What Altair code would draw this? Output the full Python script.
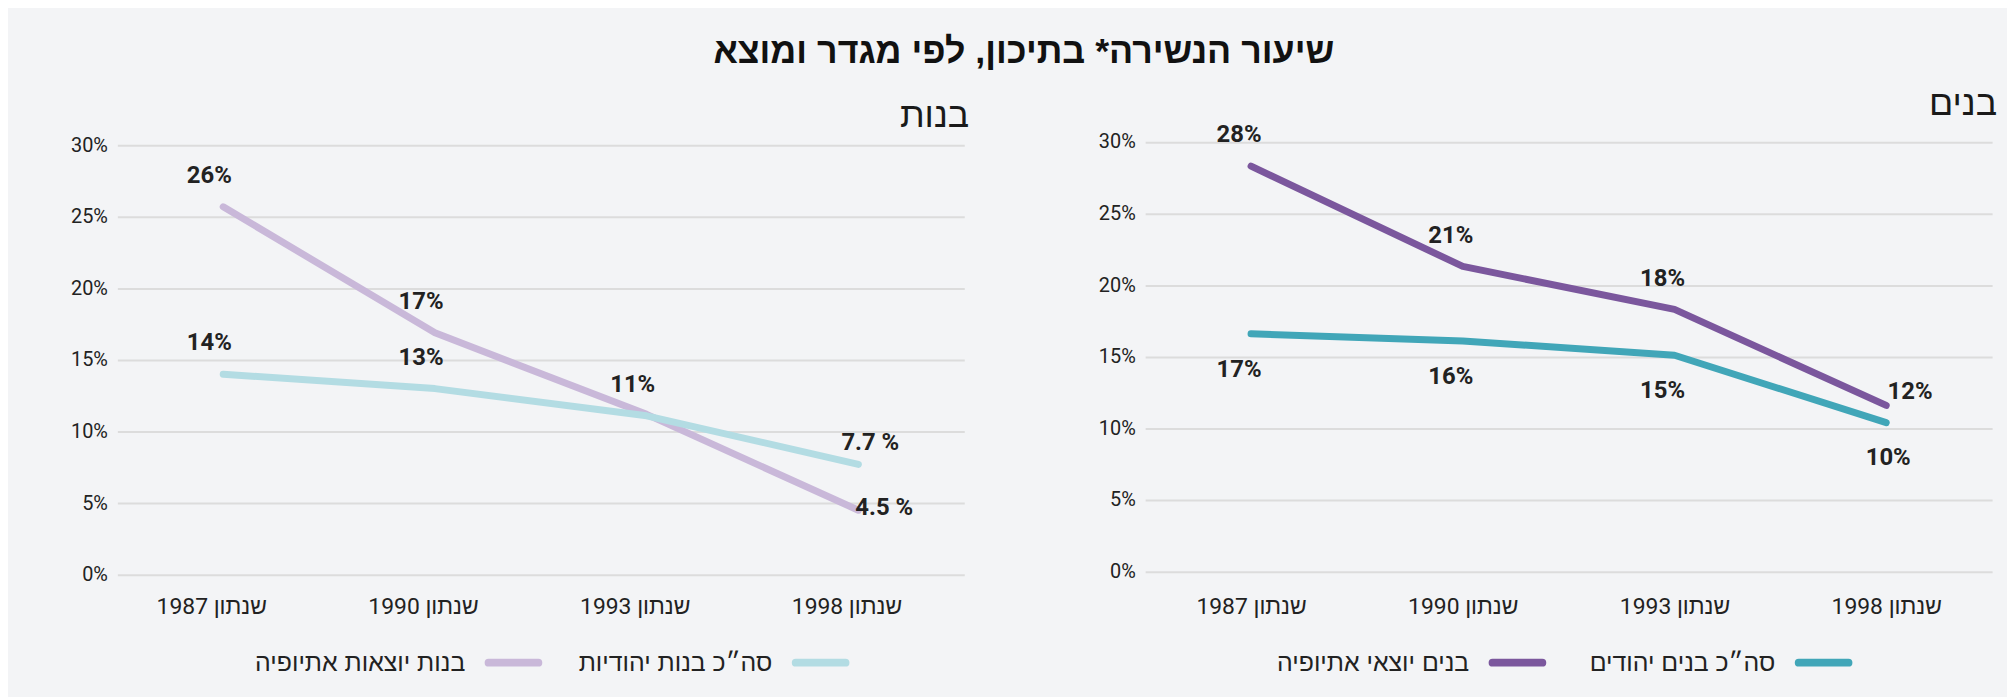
import altair as alt
import pandas as pd

FONT = "Roboto, 'Liberation Sans', sans-serif"
HFONT = "'Liberation Sans', sans-serif"

main_title = "שיעור הנשירה* בתיכון, לפי מגדר ומוצא"
years = ["שנתון 1987", "שנתון 1990", "שנתון 1993", "שנתון 1998"]
y_ticks = [0, 5, 10, 15, 20, 25, 30]

girls_title = "בנות"
girls_eth_name = "בנות יוצאות אתיופיה"
girls_tot_name = "סה״כ בנות יהודיות"
girls_eth = [25.7, 16.9, 11.2, 4.5]
girls_eth_labels = ["26%", "17%", "11%", "4.5 %"]
girls_tot = [14.0, 13.0, 11.1, 7.7]
girls_tot_labels = ["14%", "13%", "11%", "7.7 %"]

boys_title = "בנים"
boys_eth_name = "בנים יוצאי אתיופיה"
boys_tot_name = "סה״כ בנים יהודים"
boys_eth = [28.3, 21.3, 18.3, 11.6]
boys_eth_labels = ["28%", "21%", "18%", "12%"]
boys_tot = [16.6, 16.1, 15.1, 10.4]
boys_tot_labels = ["17%", "16%", "15%", "10%"]

girls_colors = ["#c9b8d9", "#b3dce3"]
boys_colors = ["#7b579d", "#41a6b8"]

# legend swatch: a rounded bar drawn to the right of the (right-aligned) label
SWATCH = ("M9.0,-0.125 L21.5,-0.125 A0.125,0.125 0 0 1 21.5,0.125 "
          "L9.0,0.125 A0.125,0.125 0 0 1 9.0,-0.125 Z")


def make_df(eth_name, tot_name, eth_vals, tot_vals, eth_lbls, tot_lbls):
    return pd.DataFrame({
        "year": years * 2,
        "series": [eth_name] * 4 + [tot_name] * 4,
        "value": eth_vals + tot_vals,
        "label": eth_lbls + tot_lbls,
        "i": [0, 1, 2, 3] * 2,
    })


def base_chart(df, title, x_label_offset, y_range):
    return alt.Chart(df, title=alt.TitleParams(
        title, anchor="end", fontSize=36, font=HFONT, fontWeight="normal",
        color="#1a1a1a", offset=0, dx=5)).encode(
        x=alt.X("year:N", sort=years,
                scale=alt.Scale(type="point", padding=0.5),
                axis=alt.Axis(title=None, labelAngle=0, domain=False, ticks=False,
                              tickSize=0, grid=False, labelPadding=21,
                              labelFontSize=23, labelFont=FONT, labelColor="#222",
                              labelOffset=x_label_offset)),
        y=alt.Y("value:Q", scale=alt.Scale(domain=[0, 30], nice=False, zero=True,
                                           range=y_range),
                axis=alt.Axis(title=None, values=y_ticks, labelExpr="datum.value + '%'",
                              domain=False, ticks=False, tickSize=0, grid=True,
                              gridColor="#dcdcdc", gridWidth=2, labelPadding=10,
                              labelFontSize=20, labelFont=FONT, labelColor="#222")),
    )


def legend(x, y, pad):
    return alt.Legend(
        title=None, orient="none", legendX=x, legendY=y, direction="horizontal",
        labelAlign="right", labelOffset=0, symbolType=SWATCH,
        symbolSize=64, symbolStrokeWidth=7, labelFontSize=25, labelFont=HFONT,
        labelColor="#222", columnPadding=pad, labelLimit=500, padding=0,
        symbolOpacity=1)


def text_layer(base, cond, dx, dy):
    return base.mark_text(dx=dx, dy=dy, fontSize=24, fontWeight="bold", font=FONT,
                          color="#222", align="center", baseline="middle").encode(
        text="label:N").transform_filter(cond)


# ---- girls panel ----
gdf = make_df(girls_eth_name, girls_tot_name, girls_eth, girls_tot,
              girls_eth_labels, girls_tot_labels)
gb = base_chart(gdf, girls_title, -12, [432, 0])
g_lines = gb.mark_line(strokeWidth=7, strokeCap="round", strokeJoin="round").encode(
    color=alt.Color("series:N",
                    scale=alt.Scale(domain=[girls_eth_name, girls_tot_name], range=girls_colors),
                    legend=legend(325, 508, 26)))
g_t1 = text_layer(gb, f"(datum.series == '{girls_tot_name}' && datum.i < 3) || "
                      f"(datum.series == '{girls_eth_name}' && datum.i < 2)", -14, -31)
g_t2 = text_layer(gb, f"datum.series == '{girls_tot_name}' && datum.i == 3", 12, -22)
g_t3 = text_layer(gb, f"datum.series == '{girls_eth_name}' && datum.i == 3", 26, -2)
girls = alt.layer(g_lines, g_t1, g_t2, g_t3).properties(width=852, height=432)

# ---- boys panel ----
bdf = make_df(boys_eth_name, boys_tot_name, boys_eth, boys_tot,
              boys_eth_labels, boys_tot_labels)
bb = base_chart(bdf, boys_title, 0, [429, -3.5])
b_lines = bb.mark_line(strokeWidth=7, strokeCap="round", strokeJoin="round").encode(
    color=alt.Color("series:N",
                    scale=alt.Scale(domain=[boys_eth_name, boys_tot_name], range=boys_colors),
                    legend=legend(301, 508, 33)))
b_t1 = text_layer(bb, f"datum.series == '{boys_eth_name}' && datum.i < 3", -12, -31)
b_t2 = text_layer(bb, f"datum.series == '{boys_eth_name}' && datum.i == 3", 24, -13)
b_t3 = text_layer(bb, f"datum.series == '{boys_tot_name}' && datum.i < 3", -12, 36)
b_t4 = text_layer(bb, f"datum.series == '{boys_tot_name}' && datum.i == 3", 2, 36)
boys = alt.layer(b_lines, b_t1, b_t2, b_t3, b_t4).properties(width=852, height=432)

chart = alt.hconcat(girls, boys, spacing=129).resolve_scale(
    color="independent", x="independent", y="independent"
).resolve_legend(color="independent").properties(
    title=alt.TitleParams(main_title, fontSize=36, font=HFONT, fontWeight="bold",
                          anchor="middle", color="#111", offset=16, dx=-10),
    background="#f3f4f6",
    padding={"left": 62, "top": 24, "right": 10, "bottom": 18},
).configure_view(stroke=None)

chart.save("out.html", embed_options={"renderer": "svg", "actions": False})
